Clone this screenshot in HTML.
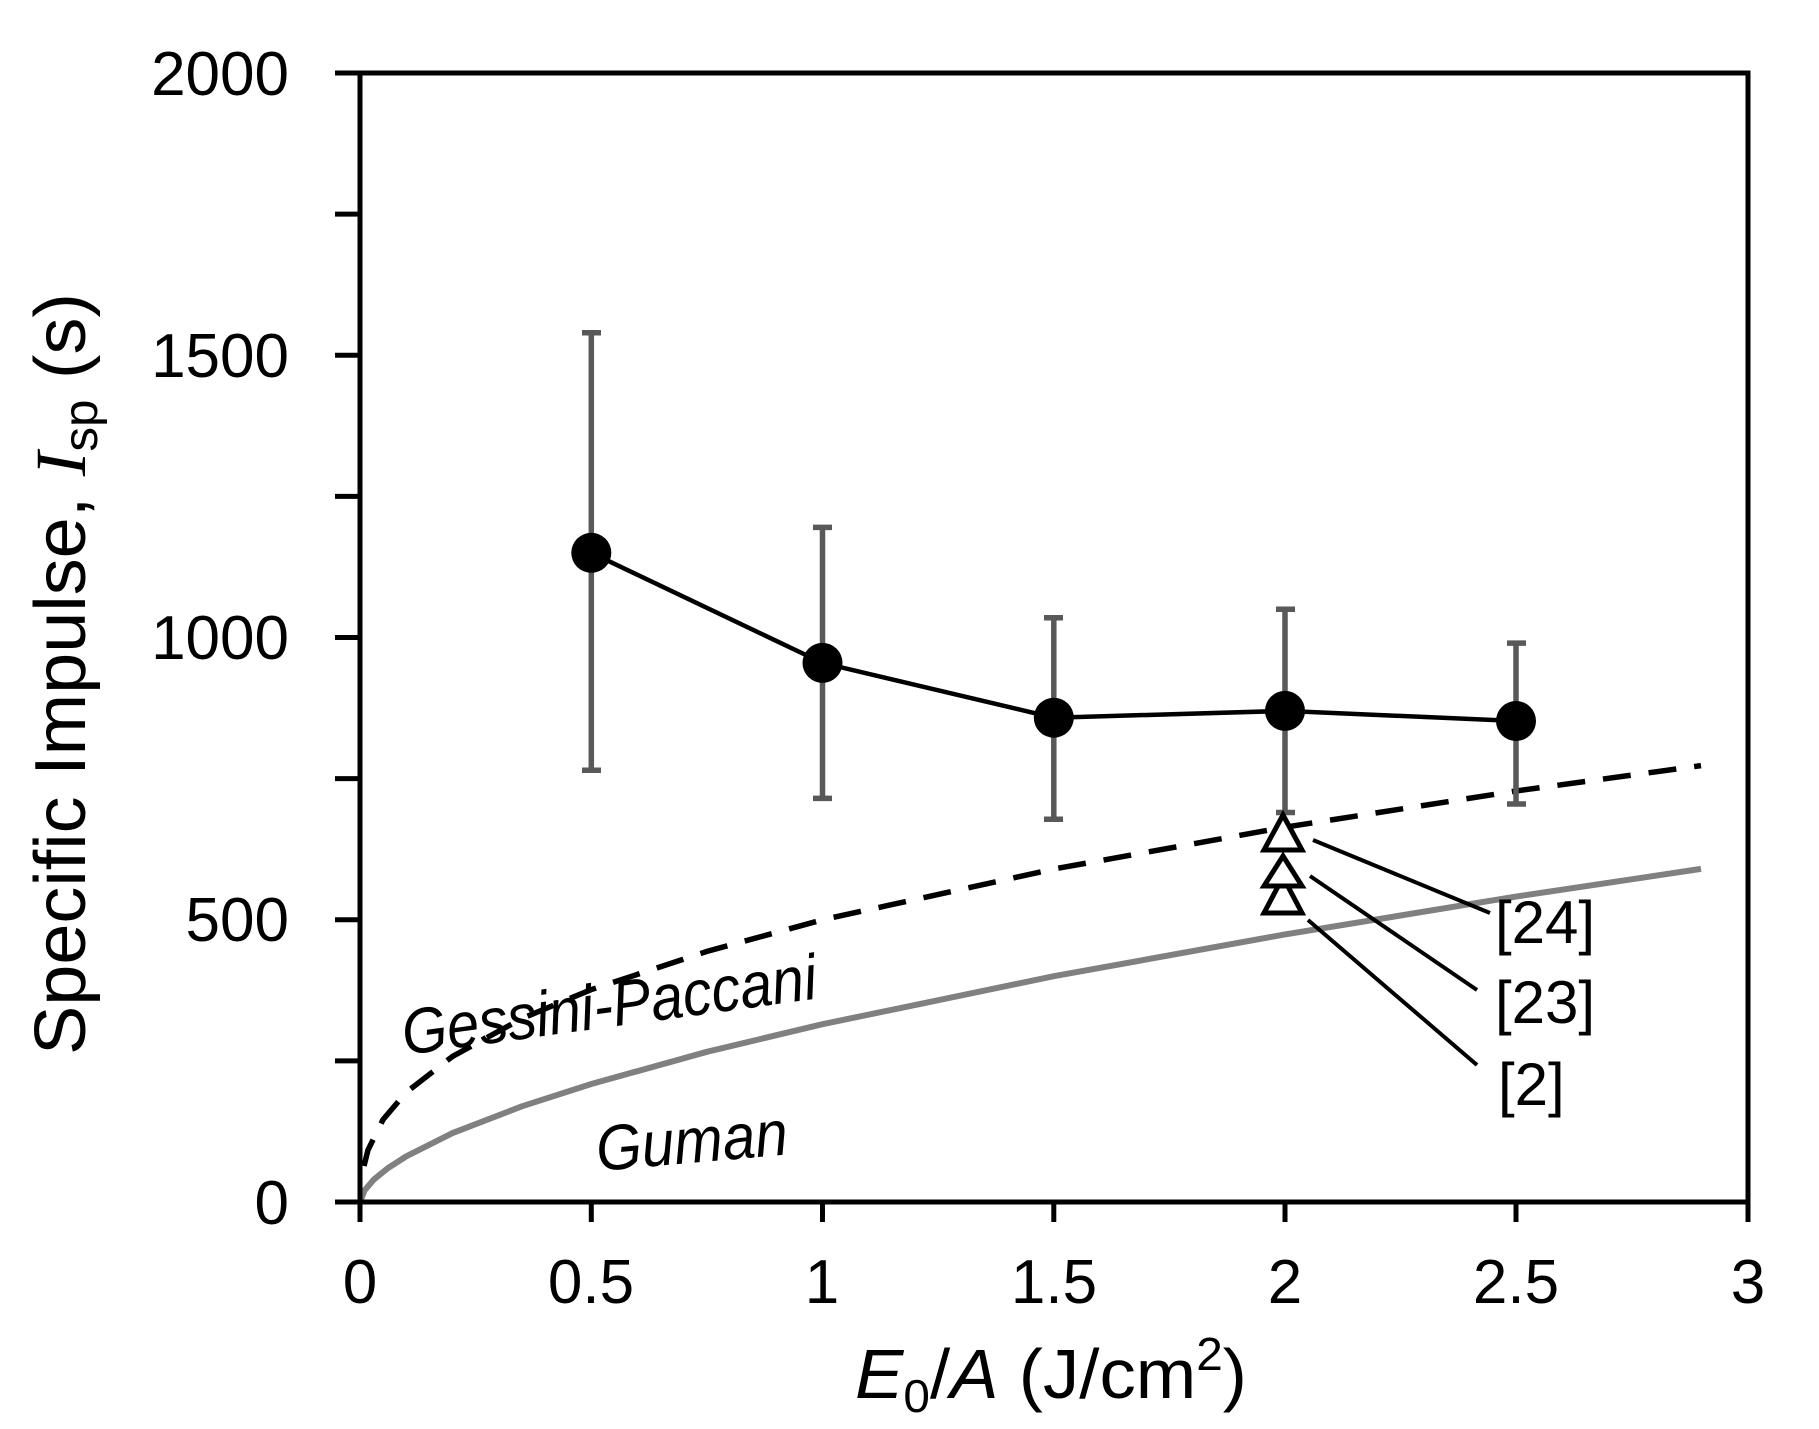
<!DOCTYPE html>
<html><head><meta charset="utf-8"><style>
html,body{margin:0;padding:0;background:#fff;}
svg{display:block;}
text{font-family:"Liberation Sans",sans-serif;fill:#000;}
</style></head><body>
<svg width="1819" height="1429" viewBox="0 0 1819 1429" xmlns="http://www.w3.org/2000/svg">
<rect width="1819" height="1429" fill="#fff"/>
<polyline fill="none" stroke="#808080" stroke-width="6" stroke-linejoin="round"
 points="360,1202 364.6,1190.3 373.9,1179.5 387.8,1168.2 406.3,1156.3 452.5,1133.1 521.9,1106.3 591.3,1084 706.9,1051.8 822.5,1024.2 1053.8,976.2 1285,934.4 1516,896.6 1701,868.9"/>
<polyline fill="none" stroke="#000" stroke-width="5.5" stroke-dasharray="28,18"
 points="364,1166 368,1150 383,1119.6 406,1092.5 452.5,1056.4 522,1018.5 591,989.7 707,951.4 822.5,919.8 1054,869 1285,827.2 1516,791 1701,765.6"/>
<g stroke="#595959" stroke-width="5.5" fill="none">
<path d="M591.3,332.7V770.2M582,332.7H601M582,770.2H601"/>
<path d="M822.5,527.4V798.4M813,527.4H832M813,798.4H832"/>
<path d="M1053.8,617.8V819.3M1044,617.8H1063M1044,819.3H1063"/>
<path d="M1285,609.3V812.5M1276,609.3H1295M1276,812.5H1295"/>
<path d="M1516,643.1V804M1507,643.1H1526M1507,804H1526"/>
</g>
<polyline fill="none" stroke="#000" stroke-width="4.5" points="591.3,552.8 822.5,662.9 1053.8,717.7 1285,710.9 1516,721"/>
<g fill="#000">
<circle cx="591.3" cy="552.8" r="20"/><circle cx="822.5" cy="662.9" r="20"/>
<circle cx="1053.8" cy="717.7" r="20"/><circle cx="1285" cy="710.9" r="20"/>
<circle cx="1516" cy="721" r="20"/>
</g>
<g fill="#fff" stroke="#000" stroke-width="5" stroke-linejoin="miter">
<path d="M1283,877 L1302,913 L1264,913 Z"/>
<path d="M1283,856 L1302,886 L1264,886 Z"/>
<path d="M1283,815 L1302,850 L1264,850 Z"/>
</g>
<g stroke="#000" stroke-width="4">
<line x1="1313" y1="840" x2="1490" y2="913"/>
<line x1="1310" y1="876" x2="1477" y2="990"/>
<line x1="1308" y1="920" x2="1477" y2="1065"/>
</g>
<g font-size="60">
<text x="1495" y="943">[24]</text>
<text x="1495" y="1023">[23]</text>
<text x="1498" y="1105">[2]</text>
</g>
<rect x="360" y="73" width="1388" height="1129" fill="none" stroke="#000" stroke-width="5"/>
<g stroke="#000" stroke-width="5">
<path d="M335,1202H360M335,1060.9H360M335,919.8H360M335,778.6H360M335,637.5H360M335,496.4H360M335,355.3H360M335,214.1H360M335,73H360"/>
<path d="M360,1202V1222M591.3,1202V1222M822.5,1202V1222M1053.8,1202V1222M1285,1202V1222M1516,1202V1222M1748,1202V1222"/>
</g>
<g font-size="62" text-anchor="end">
<text x="289" y="1224">0</text>
<text x="289" y="941">500</text>
<text x="289" y="659">1000</text>
<text x="289" y="377">1500</text>
<text x="289" y="95">2000</text>
</g>
<g font-size="62" text-anchor="middle">
<text x="360" y="1303">0</text>
<text x="591" y="1303">0.5</text>
<text x="822" y="1303">1</text>
<text x="1054" y="1303">1.5</text>
<text x="1285" y="1303">2</text>
<text x="1516" y="1303">2.5</text>
<text x="1748" y="1303">3</text>
</g>
<text x="855" y="1398" font-size="70" textLength="392" lengthAdjust="spacingAndGlyphs"><tspan font-style="italic">E</tspan><tspan font-size="46" dy="14">0</tspan><tspan dy="-14">/</tspan><tspan font-style="italic">A</tspan> (J/cm<tspan font-size="46" dy="-28">2</tspan><tspan dy="28">)</tspan></text>
<text transform="translate(85,1055) rotate(-90)" font-size="72" textLength="762" lengthAdjust="spacingAndGlyphs">Specific Impulse, <tspan font-family="Liberation Serif" font-style="italic">I</tspan><tspan font-size="48" dy="12">sp</tspan><tspan dy="-12"> (s)</tspan></text>
<text transform="translate(405,1055) rotate(-7.8)" font-size="64" font-style="italic" textLength="418" lengthAdjust="spacingAndGlyphs">Gessini-Paccani</text>
<text transform="translate(598,1171) rotate(-5)" font-size="64" font-style="italic" textLength="192" lengthAdjust="spacingAndGlyphs">Guman</text>
</svg>
</body></html>
